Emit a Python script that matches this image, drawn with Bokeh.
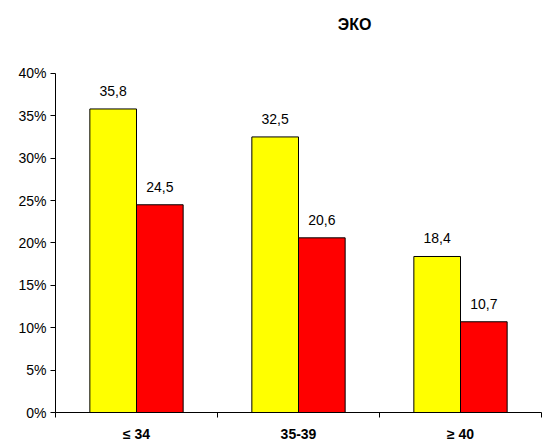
from bokeh.plotting import figure
from bokeh.models import ColumnDataSource, FixedTicker, NumeralTickFormatter, LabelSet, Range1d, Label
from bokeh.core.properties import value
from bokeh.embed import file_html
from bokeh.resources import INLINE

categories = ["≤ 34", "35-39", "≥ 40"]
yellow_vals = [35.8, 32.5, 18.4]
red_vals = [24.5, 20.6, 10.7]
title_text = "ЭКО"

FONT = "Liberation Sans"
n = len(categories)
centers = [i + 0.5 for i in range(n)]
bw = 0.288
off = 0.144

src_y = ColumnDataSource(dict(
    x=[c - off for c in centers],
    top=[v / 100 for v in yellow_vals],
    lab=[f"{v:.1f}".replace(".", ",") for v in yellow_vals],
))
src_r = ColumnDataSource(dict(
    x=[c + off for c in centers],
    top=[v / 100 for v in red_vals],
    lab=[f"{v:.1f}".replace(".", ",") for v in red_vals],
))

H, TOP, BOT = 444, 10, 31
ymax_axis = 0.40
px_per_unit = 340 / ymax_axis  # 40% spans 340 px in the reference
y_end = (H - TOP - BOT) / px_per_unit

p = figure(width=542, height=H, output_backend="svg", toolbar_location=None,
           x_range=Range1d(0, n), y_range=Range1d(0, y_end),
           min_border_left=55, min_border_right=1, min_border_top=TOP, min_border_bottom=BOT)
p.outline_line_color = None
p.xgrid.visible = False
p.ygrid.visible = False

p.vbar(x="x", top="top", width=bw, bottom=0, source=src_y,
       fill_color="#FFFF00", line_color="black", line_width=1)
p.vbar(x="x", top="top", width=bw, bottom=0, source=src_r,
       fill_color="#FF0000", line_color="black", line_width=1)

for s in (src_y, src_r):
    p.add_layout(LabelSet(x="x", y="top", text="lab", source=s, y_offset=13,
                          text_align="center", text_baseline="alphabetic",
                          text_font=value(FONT), text_font_size="14px", text_color="black"))

# title drawn inside the (invisible) upper part of the frame
p.add_layout(Label(x=1.846, y=ymax_axis, y_offset=49, text=title_text,
                   text_align="center", text_baseline="alphabetic",
                   text_font=FONT, text_font_style="bold",
                   text_font_size="16px", text_color="black"))

# y axis
p.yaxis.ticker = FixedTicker(ticks=[i * 0.05 for i in range(9)])
p.yaxis.bounds = (0, ymax_axis)
p.yaxis.formatter = NumeralTickFormatter(format="0%")
p.yaxis.major_tick_in = 0
p.yaxis.major_tick_out = 5
p.yaxis.minor_tick_line_color = None
p.yaxis.axis_line_color = "black"
p.yaxis.major_tick_line_color = "black"
p.yaxis.major_label_text_font = FONT
p.yaxis.major_label_text_font_size = "14px"
p.yaxis.major_label_text_color = "black"
p.yaxis.major_label_standoff = 4

# x axis
p.xaxis.ticker = FixedTicker(ticks=centers, minor_ticks=list(range(n + 1)))
p.xaxis.major_label_overrides = {c: cat for c, cat in zip(centers, categories)}
p.xaxis.major_tick_in = 0
p.xaxis.major_tick_out = 0
p.xaxis.minor_tick_in = 0
p.xaxis.minor_tick_out = 5
p.xaxis.minor_tick_line_color = "black"
p.xaxis.axis_line_color = "black"
p.xaxis.major_label_text_font = FONT
p.xaxis.major_label_text_font_style = "bold"
p.xaxis.major_label_text_font_size = "14px"
p.xaxis.major_label_text_color = "black"
p.xaxis.major_label_standoff = 8

open("out.html", "w").write(file_html(p, INLINE))
